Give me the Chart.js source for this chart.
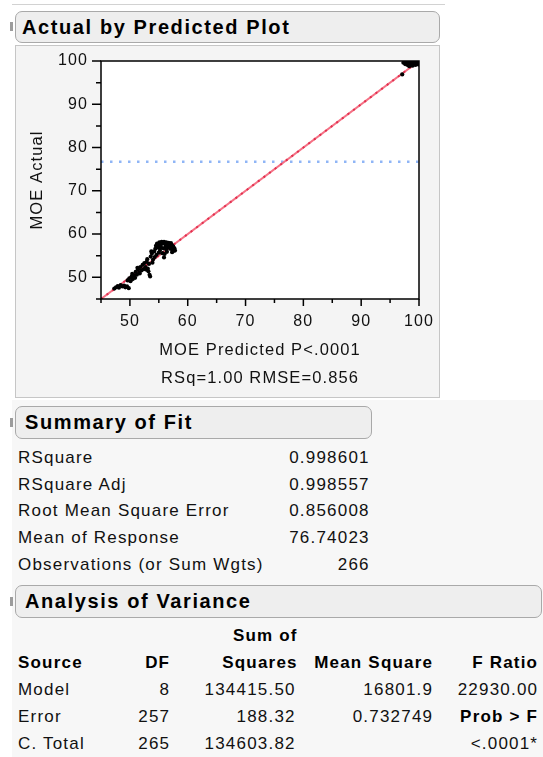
<!DOCTYPE html>
<html>
<head>
<meta charset="utf-8">
<title>Actual by Predicted Plot</title>
<script src="https://cdn.jsdelivr.net/npm/chart.js@4.4.1/dist/chart.umd.min.js"></script>
<style>
  html, body { margin: 0; padding: 0; background: #fff; }
  body {
    width: 543px; height: 757px; position: relative; overflow: hidden;
    font-family: "Liberation Sans", Arial, sans-serif; color: #111;
  }
  .frame-top { position: absolute; left: 12px; top: 4px; width: 433px; height: 1px; background: #d2d2d2; }
  .lower-bg  { position: absolute; left: 12px; top: 400px; right: 0; bottom: 0; background: #f7f7f7; }
  .hdr {
    position: absolute; box-sizing: border-box; height: 33px; line-height: 31px;
    border: 1px solid #a9a9a9; border-radius: 7px; background: #eeeeee;
    font-weight: bold; font-size: 20px; letter-spacing: 1.6px; color: #000;
    padding-left: 9px; white-space: nowrap;
  }
  .tog { position: absolute; left: 10px; width: 3px; height: 9px; background: #9c9c9c; }
  .panel {
    position: absolute; left: 15px; top: 45px; width: 425px; height: 353px;
    box-sizing: border-box; border: 1px solid #c6c6c6; background: #f4f4f4;
  }
  .plot { position: absolute; left: 0; top: 0; width: 423px; height: 351px; }
  .cell {
    position: absolute; font-size: 17px; letter-spacing: 1.2px; white-space: nowrap; color: #111;
  }
  .b { font-weight: bold; color: #000; }
</style>
</head>
<body>
<div class="frame-top"></div>
<div class="lower-bg"></div>

<div class="tog" style="top:22px"></div>
<div class="hdr" style="left:15px; top:11px; width:425px; height:32px; line-height:30px; padding-left:6px">Actual by Predicted Plot</div>
<div class="panel"><div class="plot"><canvas id="avp"></canvas></div></div>

<div class="tog" style="top:418px"></div>
<div class="hdr" style="left:15px; top:406px; width:357px">Summary of Fit</div>
<div id="fit"></div>

<div class="tog" style="top:597px"></div>
<div class="hdr" style="left:15px; top:585px; width:527px">Analysis of Variance</div>
<div id="anova"></div>

<script>
// MOE: predicted vs actual for each observation
const predicted = [
  47.3, 47.6, 47.9, 48.1, 48.4, 48.7, 49.0, 49.2, 49.5, 49.8,
  49.6, 49.9, 50.1, 50.3, 50.5, 50.7, 50.9, 50.4,
  51.0, 51.2, 51.4, 51.6, 51.8, 52.0, 52.2, 52.4, 51.3, 51.7, 52.5,
  52.7, 52.9, 53.1, 53.2, 53.4, 53.5, 53.0, 52.8, 53.3,
  53.6, 53.8, 54.0, 54.2, 54.4, 54.6, 54.8, 53.9, 54.3, 53.7, 54.5,
  54.9, 55.1, 55.3, 55.5, 55.7, 55.9, 56.1, 56.3, 56.5, 56.7, 56.9, 57.1, 57.3, 57.5, 57.7,
  57.8, 57.4, 57.0, 56.7, 56.3, 56.0, 55.9, 55.6, 55.2, 55.0, 55.4, 55.8, 56.2, 56.6, 57.1,
  57.6, 55.1, 54.7, 56.4, 57.3,
  97.1, 97.3, 97.6, 97.8, 98.0, 98.2, 98.4, 98.6, 98.8, 99.0, 99.2, 99.4, 99.6, 99.8, 100.0,
  98.3, 98.9, 99.5, 99.9, 97.5, 98.1, 99.1, 99.7, 98.7, 99.3
]
const actual = [
  47.4, 47.7, 48.0, 47.6, 48.2, 47.9, 48.1, 47.7, 47.9, 47.5,
  49.3, 49.8, 49.1, 50.2, 49.6, 50.5, 49.9, 50.8,
  51.3, 50.6, 51.9, 51.1, 52.4, 51.6, 52.9, 51.9, 52.2, 50.9, 53.3,
  52.4, 53.6, 52.0, 51.4, 50.6, 50.2, 54.2, 51.8, 53.1,
  54.8, 55.5, 54.1, 56.0, 56.6, 55.2, 56.9, 53.4, 54.7, 56.0, 57.3,
  57.6, 58.1, 57.5, 58.2, 57.8, 58.2, 57.9, 58.1, 57.7, 58.0, 57.6, 57.9, 57.4, 57.1, 56.7,
  56.2, 56.0, 56.6, 56.9, 56.4, 55.4, 54.6, 55.6, 56.3, 55.7, 56.9, 56.7, 57.2, 57.3, 56.9,
  56.4, 57.0, 57.8, 55.9, 55.8,
  96.9, 99.6, 99.3, 99.8, 99.1, 99.5, 99.9, 99.0, 99.7, 99.3, 99.8, 99.1, 99.6, 99.9, 99.4,
  98.8, 98.9, 99.4, 99.2, 99.9, 100.0, 100.0, 100.0, 99.5, 99.5
]

const AXIS_MIN = 45
const AXIS_MAX = 100
const TICK_STEP = 5
const labelledTicks = [50, 60, 70, 80, 90, 100]
const fitLine = [45, 100]          // y = x reference line

const fitLabels = ["RSquare", "RSquare Adj", "Root Mean Square Error", "Mean of Response", "Observations (or Sum Wgts)"]
const fitValues = ["0.998601", "0.998557", "0.856008", "76.74023", "266"]
const meanOfResponse = Number(fitValues[3])

const anovaSource = ["Model", "Error", "C. Total"]
const anovaDF     = ["8", "257", "265"]
const anovaSS     = ["134415.50", "188.32", "134603.82"]
const anovaMS     = ["16801.9", "0.732749", ""]
const anovaF      = ["22930.00", "Prob > F", "<.0001*"]

// ---- tables ----
function cell(parent, text, opts) {
  const d = document.createElement("div")
  d.className = "cell" + (opts.bold ? " b" : "")
  d.textContent = text
  d.style.top = opts.top + "px"
  d.style.height = opts.h + "px"
  d.style.lineHeight = opts.h + "px"
  if (opts.left != null) d.style.left = opts.left + "px"
  else d.style.right = (543 - opts.right) + "px"
  parent.appendChild(d)
}

const fitEl = document.getElementById("fit")
fitLabels.forEach((lab, i) => {
  const top = 445 + i * 26.7
  cell(fitEl, lab, { left: 18, top, h: 26.7 })
  cell(fitEl, fitValues[i], { right: 369.7, top, h: 26.7 })
})

const anEl = document.getElementById("anova")
const COL = { df: 170.2, ss: 297.7, ms: 433.2, f: 538.2 }
const rowTop = i => 621.5 + i * 27
cell(anEl, "Sum of", { right: COL.ss, top: rowTop(0), h: 27, bold: true })
cell(anEl, "Source", { left: 18, top: rowTop(1), h: 27, bold: true })
cell(anEl, "DF", { right: COL.df, top: rowTop(1), h: 27, bold: true })
cell(anEl, "Squares", { right: COL.ss, top: rowTop(1), h: 27, bold: true })
cell(anEl, "Mean Square", { right: COL.ms, top: rowTop(1), h: 27, bold: true })
cell(anEl, "F Ratio", { right: COL.f, top: rowTop(1), h: 27, bold: true })
anovaSource.forEach((src, i) => {
  const top = rowTop(i + 2)
  cell(anEl, src, { left: 18, top, h: 27 })
  cell(anEl, anovaDF[i], { right: COL.df, top, h: 27 })
  cell(anEl, anovaSS[i], { right: COL.ss - 2, top, h: 27 })
  if (anovaMS[i]) cell(anEl, anovaMS[i], { right: COL.ms, top, h: 27 })
  cell(anEl, anovaF[i], { right: COL.f, top, h: 27, bold: anovaF[i] === "Prob > F" })
})

// ---- plot ----
Chart.defaults.font.family = "'Liberation Sans', Arial, sans-serif"
Chart.defaults.color = "#111"

// white plot area, black frame, long/short outside ticks
const plotFrame = {
  id: "plotFrame",
  beforeDraw(chart) {
    const { ctx, chartArea: a } = chart
    ctx.save()
    ctx.fillStyle = "#fff"
    ctx.fillRect(a.left, a.top, a.right - a.left, a.bottom - a.top)
    ctx.restore()
    ctx.letterSpacing = "1.1px"
  },
  afterDraw(chart) {
    const { ctx, chartArea: a, scales: { x, y } } = chart
    ctx.save()
    ctx.strokeStyle = "#000"
    ctx.lineWidth = 1.5
    ctx.strokeRect(a.left, a.top, a.right - a.left, a.bottom - a.top)
    ctx.beginPath()
    x.ticks.forEach(t => {
      const px = x.getPixelForValue(t.value)
      ctx.moveTo(px, a.bottom)
      ctx.lineTo(px, a.bottom + (labelledTicks.includes(t.value) ? 7 : 4))
    })
    y.ticks.forEach(t => {
      const py = y.getPixelForValue(t.value)
      ctx.moveTo(a.left, py)
      ctx.lineTo(a.left - (labelledTicks.includes(t.value) ? 9 : 5), py)
    })
    ctx.stroke()
    ctx.restore()
  }
}

const tickLabel = v => labelledTicks.includes(v) ? String(v) : ""

// fixed axis boxes; the plot edges come from layout padding alone
const fixBox = size => s => {
  if (s.isHorizontal()) s.height = size
  else s.width = size
  s.paddingTop = s.paddingBottom = s.paddingLeft = s.paddingRight = 0
}

new Chart(document.getElementById("avp"), {
  type: "scatter",
  data: {
    datasets: [
      {
        label: "MOE",
        data: predicted.map((p, i) => ({ x: p, y: actual[i] })),
        backgroundColor: "#000",
        borderWidth: 0,
        pointRadius: 2.1,
        pointHoverRadius: 2.1
      },
      {
        type: "line",
        label: "fit dots",
        data: fitLine.map(v => ({ x: v, y: v })),
        borderColor: "#e0304f",
        borderWidth: 2,
        borderDash: [2, 5],
        pointRadius: 0
      },
      {
        type: "line",
        label: "fit",
        data: fitLine.map(v => ({ x: v, y: v })),
        borderColor: "rgba(244,98,120,0.9)",
        borderWidth: 2,
        pointRadius: 0
      },
      {
        type: "line",
        label: "mean",
        data: [{ x: AXIS_MIN, y: meanOfResponse }, { x: AXIS_MAX, y: meanOfResponse }],
        borderColor: "#8fb5f6",
        borderWidth: 2.5,
        borderDash: [2.5, 6.5],
        pointRadius: 0
      }
    ]
  },
  options: {
    responsive: true,
    maintainAspectRatio: false,
    animation: false,
    events: [],
    layout: { padding: { top: 15, right: 20, left: 0, bottom: 0 } },
    plugins: { legend: { display: false }, tooltip: { enabled: false } },
    scales: {
      x: {
        type: "linear",
        min: AXIS_MIN, max: AXIS_MAX,
        afterFit: fixBox(98),
        grid: { display: false, drawTicks: false },
        border: { display: false },
        ticks: {
          stepSize: TICK_STEP, autoSkip: false, maxRotation: 0,
          padding: 13, color: "#111",
          font: { size: 16 },
          callback: tickLabel
        },
        title: {
          display: true,
          text: ["MOE Predicted P<.0001", "RSq=1.00 RMSE=0.856"],
          color: "#111",
          font: { size: 16.5, lineHeight: "28px" },
          padding: { top: 0, bottom: 5 }
        }
      },
      y: {
        type: "linear",
        min: AXIS_MIN, max: AXIS_MAX,
        afterFit: fixBox(85),
        grid: { display: false, drawTicks: false },
        border: { display: false },
        ticks: {
          stepSize: TICK_STEP, autoSkip: false,
          padding: 13, color: "#111",
          font: { size: 16 },
          callback: tickLabel
        },
        title: {
          display: true,
          text: "MOE Actual",
          color: "#111",
          font: { size: 16.5 },
          padding: { top: 12, bottom: 0 }
        }
      }
    }
  },
  plugins: [plotFrame]
})
</script>
</body>
</html>
